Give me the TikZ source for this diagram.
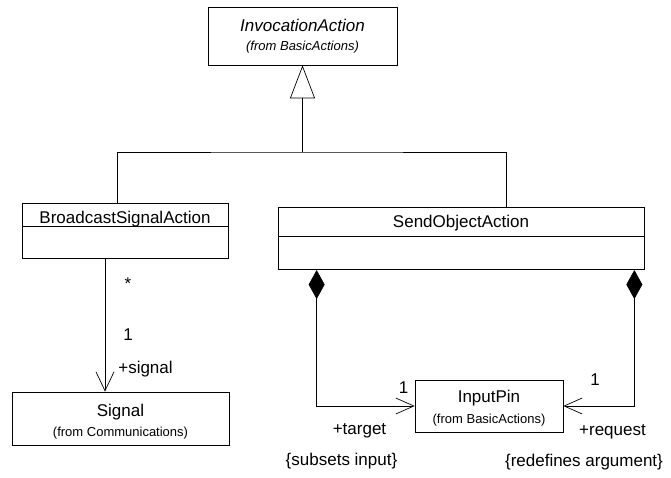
\documentclass[tikz,border=0pt]{standalone}
\usepackage{fontspec}
\setmainfont{Liberation Sans}
\usetikzlibrary{arrows.meta,positioning}
\tikzset{cls/.style={draw,line width=.7pt,inner sep=0pt},
         big/.style={inner sep=0pt,anchor=base,font=\fontsize{17}{20}\selectfont},
         small/.style={inner sep=0pt,anchor=base,font=\fontsize{13}{15}\selectfont},
         gen/.style={-{Triangle[open,length=33pt,width=25pt]},line width=.7pt},
         comp/.style={{Diamond[length=29pt,width=16pt]}-{Straight Barb[length=18pt,width=16pt]},line width=.7pt},
         assoc/.style={-{Straight Barb[length=19pt,width=18pt]},line width=.7pt}}

\begin{document}
\begin{tikzpicture}[x=1pt,y=-1pt]
  \useasboundingbox (0,0) rectangle (671,478);
  \node[cls,minimum width=189pt,minimum height=58pt] (inv) at (302.5,36) {};
  \node[big,font=\fontsize{17}{20}\selectfont\itshape] (invname) at (302.5,32) {InvocationAction};
  \node[small,font=\fontsize{13}{15}\selectfont\itshape] (invpkg) at (302.5,51) {(from BasicActions)};
  \node[cls,minimum width=206pt,minimum height=23pt] (bsa) at (125,214.5) {};
  \node[cls,minimum width=206pt,minimum height=32pt,below=0pt of bsa] (bsaattr) {};
  \node[big] (bsaname) at (125,224) {BroadcastSignalAction};
  \node[cls,minimum width=366pt,minimum height=29pt] (soa) at (461,221.5) {};
  \node[cls,minimum width=366pt,minimum height=33pt,below=0pt of soa] (soaattr) {};
  \node[big] (soaname) at (461,228) {SendObjectAction};
  \node[cls,minimum width=148pt,minimum height=52pt] (pin) at (489,406) {};
  \node[big] (pinname) at (489,402) {InputPin};
  \node[small] (pinpkg) at (489,423) {(from BasicActions)};
  \node[cls,minimum width=217pt,minimum height=53pt] (sig) at (120.5,418.5) {};
  \node[big] (signame) at (120.5,416) {Signal};
  \node[small] (sigpkg) at (120.5,436) {(from Communications)};
  \coordinate (join) at (302.5,152);
  \coordinate (sigx) at (105,0);
  \draw[gen] (join) -- (inv.south);
  \draw[line width=.7pt] ([xshift=-8pt]bsa.north) |- (join) -| ([xshift=45pt]soa.north);
  \draw[assoc] (bsaattr.south -| sigx) -- (sig.north -| sigx);
  \draw[comp] ([xshift=39pt]soaattr.south west) |- (pin.west);
  \draw[comp] ([xshift=-10pt]soaattr.south east) |- (pin.east);
  \node[big] (mstar) at (128,289) {*};
  \node[big] (mone) at (128,340) {1};
  \node[big] (rsignal) at (145.5,373) {+signal};
  \node[big] (tone) at (403.5,393) {1};
  \node[big] (rtarget) at (359.5,434) {+target};
  \node[big] (ctarget) at (341.5,465) {\{subsets input\}};
  \node[big] (qone) at (595,385) {1};
  \node[big] (rrequest) at (612.5,435) {+request};
  \node[big] (crequest) at (584,466) {\{redefines argument\}};
\end{tikzpicture}
\end{document}
